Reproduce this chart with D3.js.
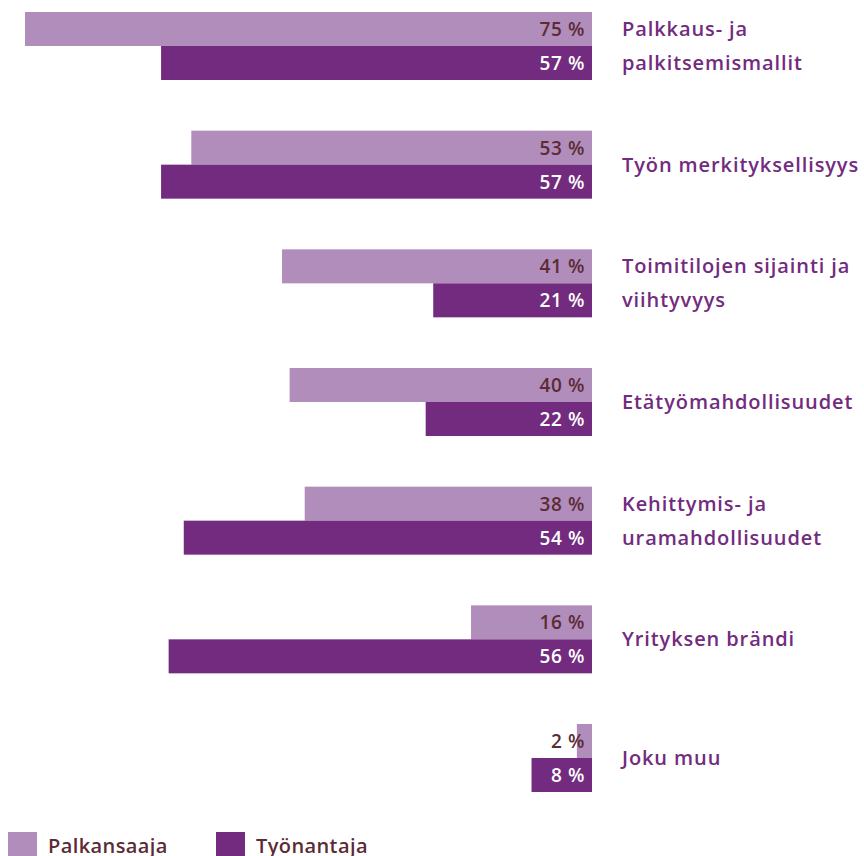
<!DOCTYPE html>
<html>
<head>
<meta charset="utf-8">
<script src="https://cdn.jsdelivr.net/npm/d3@7"></script>
<style>
  body { margin: 0; background: #fff; }
  text { font-family: "Open Sans", "Noto Sans", sans-serif; }
</style>
</head>
<body>
<svg id="chart"></svg>
<script>
var width = 864
var height = 856

// Data
var categories = [
    ["Palkkaus- ja", "palkitsemismallit"],
    ["Työn merkityksellisyys"],
    ["Toimitilojen sijainti ja", "viihtyvyys"],
    ["Etätyömahdollisuudet"],
    ["Kehittymis- ja", "uramahdollisuudet"],
    ["Yrityksen brändi"],
    ["Joku muu"]
]
var palkansaaja = [75, 53, 41, 40, 38, 16, 2]
var tyonantaja = [57, 57, 21, 22, 54, 56, 8]
var seriesNames = ["Palkansaaja", "Työnantaja"]

// Colors
var lightColor = "#b18dbb"
var darkColor = "#722b7e"
var labelColor = "#722b7e"
var darkText = "#5b2b36"

var svg = d3.select("#chart")
    .attr("width", width)
    .attr("height", height)

var barRight = 592
var x = d3.scaleLinear().domain([0, 100]).range([0, 756])

var y = d3.scaleBand()
    .domain(d3.range(categories.length))
    .range([12, 792])
    .paddingInner(0.427)

var barH = y.bandwidth() / 2

var groups = svg.selectAll(".group")
    .data(categories)
    .enter().append("g")
    .attr("class", "group")
    .attr("transform", (d, i) => "translate(0," + y(i) + ")")

// Palkansaaja bars
groups.append("rect")
    .attr("x", (d, i) => barRight - x(palkansaaja[i]))
    .attr("y", 0)
    .attr("width", (d, i) => x(palkansaaja[i]))
    .attr("height", barH)
    .style("fill", lightColor)

// Työnantaja bars
groups.append("rect")
    .attr("x", (d, i) => barRight - x(tyonantaja[i]))
    .attr("y", barH)
    .attr("width", (d, i) => x(tyonantaja[i]))
    .attr("height", barH)
    .style("fill", darkColor)

function valueLabel(sel) {
    sel.attr("x", barRight - 7)
        .attr("text-anchor", "end")
        .style("font-size", "19px")
        .style("font-weight", "600")
        .style("letter-spacing", "0.6px")
}

groups.append("text")
    .call(valueLabel)
    .attr("y", barH / 2 + 7)
    .style("fill", darkText)
    .text((d, i) => palkansaaja[i] + " %")

groups.append("text")
    .call(valueLabel)
    .attr("y", barH * 1.5 + 7)
    .style("fill", "#fff")
    .text((d, i) => tyonantaja[i] + " %")

// Category labels on the right
groups.each(function(lines) {
    var g = d3.select(this)
    var lineH = 34
    var startY = barH + 7 - (lines.length - 1) * lineH / 2
    lines.forEach(function(line, j) {
        g.append("text")
            .attr("x", 622)
            .attr("y", startY + j * lineH)
            .style("font-size", "20px")
            .style("font-weight", "600")
            .style("letter-spacing", "0.9px")
            .style("fill", labelColor)
            .text(line)
    })
})

// Legend
var legendX = [8, 216]
var legendColors = [lightColor, darkColor]
var legend = svg.selectAll(".legend")
    .data(seriesNames)
    .enter().append("g")
    .attr("class", "legend")
    .attr("transform", (d, i) => "translate(" + legendX[i] + ",832)")

legend.append("rect")
    .attr("width", 29)
    .attr("height", 30)
    .style("fill", (d, i) => legendColors[i])

legend.append("text")
    .attr("x", 40)
    .attr("y", 21)
    .style("font-size", "20px")
    .style("font-weight", "600")
    .style("letter-spacing", "0.4px")
    .style("fill", darkText)
    .text(d => d)
</script>
</body>
</html>
